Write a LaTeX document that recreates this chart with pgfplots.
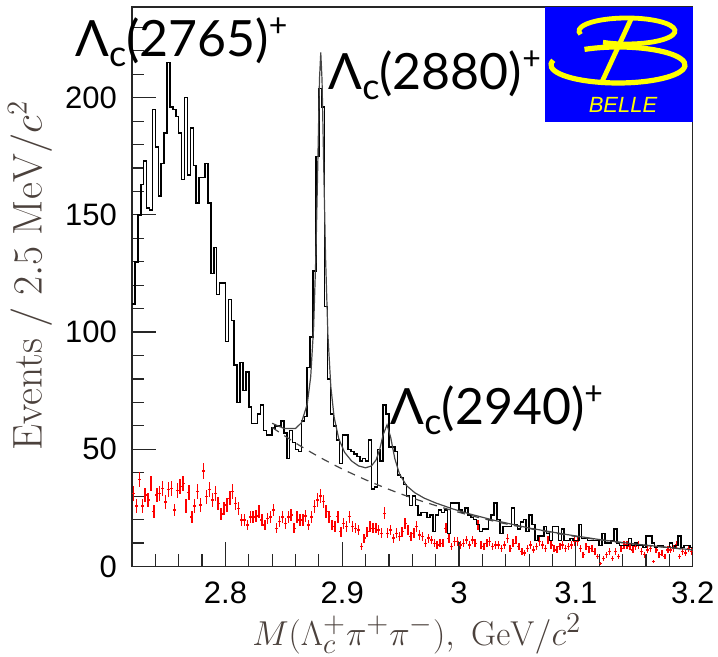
\documentclass[border=0pt]{standalone}
\usepackage[no-math]{fontspec}
\setmainfont{Liberation Sans}
\newfontfamily\annot{Lato}
\usepackage{pgfplots}
\pgfplotsset{compat=1.18}
\usepackage{pgfplotstable}

\definecolor{labelgray}{RGB}{75,65,60}
\definecolor{fitgray}{RGB}{70,70,70}
\definecolor{belleblue}{RGB}{0,0,255}
\definecolor{belleyellow}{RGB}{255,255,0}

% resonance name: Lambda_c(mass)^+
\newcommand{\lamc}[1]{Λ\raisebox{-0.2em}{\fontsize{18}{18}\selectfont c}(#1)\raisebox{0.4em}{\fontsize{16}{16}\selectfont +}}

% Lambda_c pi pi invariant mass: bin lower edge, signal-region counts, scaled sideband
\pgfplotstableread[row sep=\\]{
edge count sb \\
2.7200 112 31.2 \\ 2.7225 130 25.8 \\ 2.7250 150 37.1 \\ 2.7275 163 25.8 \\
2.7300 173 30.5 \\ 2.7325 153 28.4 \\ 2.7350 152 35.5 \\ 2.7375 195 23.4 \\
2.7400 179 30.5 \\ 2.7425 158 31.2 \\ 2.7450 172 33.3 \\ 2.7475 185 27.6 \\
2.7500 215 32.9 \\ 2.7525 196 33.3 \\ 2.7550 195 24.1 \\ 2.7575 192 32.3 \\
2.7600 185 34.0 \\ 2.7625 165 35.4 \\ 2.7650 200 25.8 \\ 2.7675 167 31.5 \\
2.7700 187 21.2 \\ 2.7725 171 25.8 \\ 2.7750 155 31.9 \\ 2.7775 166 26.2 \\
2.7800 166 40.8 \\ 2.7825 172 29.8 \\ 2.7850 155 32.9 \\ 2.7875 125 28.4 \\
2.7900 136 31.2 \\ 2.7925 116 26.9 \\ 2.7950 121 22.4 \\ 2.7975 121 24.8 \\
2.8000 96 26.2 \\ 2.8025 114 29.1 \\ 2.8050 105 31.9 \\ 2.8075 86 26.9 \\
2.8100 70 24.8 \\ 2.8125 87 19.8 \\ 2.8150 75 19.8 \\ 2.8175 83 17.7 \\
2.8200 68 21.2 \\ 2.8225 61 21.2 \\ 2.8250 61 21.5 \\ 2.8275 65 23.4 \\
2.8300 69 19.8 \\ 2.8325 58 17.7 \\ 2.8350 56 20.5 \\ 2.8375 56 21.2 \\
2.8400 59 24.1 \\ 2.8425 60 16.3 \\ 2.8450 60 19.1 \\ 2.8475 62 21.2 \\
2.8500 57 18.4 \\ 2.8525 46 21.2 \\ 2.8550 58 22.0 \\ 2.8575 53 16.3 \\
2.8600 50 21.2 \\ 2.8625 49 19.8 \\ 2.8650 62 19.8 \\ 2.8675 64 21.5 \\
2.8700 85 17.7 \\ 2.8725 98 21.2 \\ 2.8750 126 25.5 \\ 2.8775 175 28.4 \\
2.8800 204 30.0 \\ 2.8825 196 27.7 \\ 2.8850 111 23.4 \\ 2.8875 80 21.3 \\
2.8900 65 17.7 \\ 2.8925 60 17.0 \\ 2.8950 54 21.3 \\ 2.8975 44 14.9 \\
2.9000 56 18.4 \\ 2.9025 56 17.0 \\ 2.9050 50 21.3 \\ 2.9075 49 17.0 \\
2.9100 48 16.3 \\ 2.9125 47 15.6 \\ 2.9150 45 8.5 \\ 2.9175 46 12.1 \\
2.9200 45 14.9 \\ 2.9225 54 17.0 \\ 2.9250 33 16.3 \\ 2.9275 34 16.3 \\
2.9300 50 15.6 \\ 2.9325 45 14.2 \\ 2.9350 69 22.7 \\ 2.9375 65 14.2 \\
2.9400 51 15.6 \\ 2.9425 51 12.1 \\ 2.9450 49 14.2 \\ 2.9475 39 12.8 \\
2.9500 38 14.9 \\ 2.9525 35 18.4 \\ 2.9550 30 15.6 \\ 2.9575 26 12.8 \\
2.9600 30 14.2 \\ 2.9625 26 17.0 \\ 2.9650 22 13.5 \\ 2.9675 23 12.8 \\
2.9700 23 9.9 \\ 2.9725 21 12.1 \\ 2.9750 22 11.3 \\ 2.9775 15 9.9 \\
2.9800 22 9.2 \\ 2.9825 24 9.9 \\ 2.9850 23 9.9 \\ 2.9875 24 16.3 \\
2.9900 14 12.0 \\ 2.9925 27 8.5 \\ 2.9950 27 10.6 \\ 2.9975 27 10.6 \\
3.0000 24 9.2 \\ 3.0025 23 9.9 \\ 3.0050 25 11.3 \\ 3.0075 22 9.2 \\
3.0100 21 11.3 \\ 3.0125 20 9.9 \\ 3.0150 18 17.7 \\ 3.0175 15 9.2 \\
3.0200 16 8.5 \\ 3.0225 16 9.9 \\ 3.0250 20 10.6 \\ 3.0275 22 8.5 \\
3.0300 27 9.2 \\ 3.0325 20 9.2 \\ 3.0350 14 7.8 \\ 3.0375 17 9.2 \\
3.0400 17 12.0 \\ 3.0425 17 7.8 \\ 3.0450 25 9.9 \\ 3.0475 18 11.3 \\
3.0500 16 8.5 \\ 3.0525 19 6.4 \\ 3.0550 20 5.7 \\ 3.0575 15 7.8 \\
3.0600 22 9.2 \\ 3.0625 18 7.1 \\ 3.0650 11 8.5 \\ 3.0675 13 10.6 \\
3.0700 13 9.2 \\ 3.0725 17 7.8 \\ 3.0750 14 11.3 \\ 3.0775 11 9.2 \\
3.0800 17 7.8 \\ 3.0825 17 7.1 \\ 3.0850 11 8.5 \\ 3.0875 16 9.2 \\
3.0900 11 7.8 \\ 3.0925 11 8.5 \\ 3.0950 12 9.2 \\ 3.0975 11 10.6 \\
3.1000 11 10.6 \\ 3.1025 18 7.8 \\ 3.1050 12 5.0 \\ 3.1075 12 8.5 \\
3.1100 11 7.1 \\ 3.1125 11 7.8 \\ 3.1150 11 6.4 \\ 3.1175 11 4.2 \\
3.1200 9 1.4 \\ 3.1225 14 3.5 \\ 3.1250 10 5.0 \\ 3.1275 10 6.4 \\
3.1300 11 3.5 \\ 3.1325 16 6.4 \\ 3.1350 10 4.2 \\ 3.1375 9 7.8 \\
3.1400 9 9.2 \\ 3.1425 9 9.2 \\ 3.1450 12 8.5 \\ 3.1475 9 7.1 \\
3.1500 10 8.5 \\ 3.1525 9 9.2 \\ 3.1550 9 6.4 \\ 3.1575 8 5.0 \\
3.1600 13 7.1 \\ 3.1625 13 7.8 \\ 3.1650 10 2.1 \\ 3.1675 8 7.1 \\
3.1700 9 5.0 \\ 3.1725 9 5.7 \\ 3.1750 8 4.2 \\ 3.1775 8 7.1 \\
3.1800 10 7.1 \\ 3.1825 8 7.8 \\ 3.1850 9 9.2 \\ 3.1875 13 4.2 \\
3.1900 8 6.4 \\ 3.1925 9 5.7 \\ 3.1950 9 7.8 \\ 3.1975 8 6.4 \\
3.2000 8 nan \\
}\massdata

\begin{document}
\begin{tikzpicture}
\begin{axis}[
  name=ax,
  scale only axis,
  width=280.35pt, height=279.75pt,
  xmin=2.72, xmax=3.2, ymin=0, ymax=238.7,
  clip mode=individual,
  axis line style={line width=0.6pt, black!85},
  every tick/.style={line width=0.6pt, black!85},
  major tick length=12pt, minor tick length=6pt,
  xtick={2.8,2.9,3.0,3.1,3.2},
  xticklabels={2.8,2.9,3,3.1,3.2},
  minor xtick={2.72,2.74,2.76,2.78,2.82,2.84,2.86,2.88,2.92,2.94,2.96,2.98,3.02,3.04,3.06,3.08,3.12,3.14,3.16,3.18},
  ytick={0,50,100,150,200},
  minor ytick={10,20,30,40,60,70,80,90,110,120,130,140,160,170,180,190,210,220,230},
  xtick pos=bottom, ytick pos=left,
  tick align=inside,
  /pgf/number format/assume math mode=true,
  tick label style={font=\fontsize{15.5}{16}\selectfont, black},
  every x tick label/.append style={yshift=-4pt},
  every y tick label/.append style={xshift=-4pt},
  xlabel={$M(\Lambda_c^+\pi^+\pi^-),\ \mathrm{GeV}/c^2$},
  ylabel={$\mathrm{Events\ /\ 2.5\ MeV}/c^2$},
  xlabel style={font=\fontsize{19}{19}\selectfont, text=labelgray,
    at={(axis description cs:0.508,-0.121)}, anchor=center},
  ylabel style={font=\fontsize{20.5}{20.5}\selectfont, text=labelgray,
    at={(axis description cs:-0.182,0.52)}, anchor=center},
]
% sideband distribution
\addplot[red, line width=0.7pt, mark=none, draw=none,
  error bars/.cd, x dir=both, x fixed=0.00125, y dir=both,
  y explicit, error mark=none,
  error bar style={red, line width=0.7pt}]
  table[x expr=\thisrow{edge}+0.00125, y=sb,
        y error expr=0.55*sqrt(\thisrow{sb})] {\massdata};
% signal-region histogram
\addplot[const plot mark left, black, line width=0.75pt, mark=none]
  table[x=edge, y=count] {\massdata};
% fitted background
\addplot[fitgray, line width=0.6pt, dash pattern=on 4pt off 3.3pt, smooth] coordinates {
(2.840,59.3)(2.860,52.7)(2.880,46.8)(2.900,41.6)(2.920,37.0)(2.940,32.9)
(2.960,29.2)(2.980,26.0)(3.000,23.1)(3.020,20.5)(3.040,18.2)(3.060,16.2)
(3.080,14.4)(3.100,12.8)(3.120,11.4)(3.140,10.1)(3.160,9.0)(3.180,8.0)(3.200,7.1)};
% full fit
\addplot[fitgray, line width=0.6pt] coordinates {
(2.840,61.1)(2.850,58.9)(2.860,58.9)(2.865,61.3)(2.870,69.2)(2.873,81.0)
(2.8755,102.1)(2.8775,134.0)(2.879,170.4)(2.8805,207.9)(2.8816,219.3)
(2.8827,207.4)(2.8842,169.1)(2.8857,131.9)(2.8877,98.9)(2.8902,76.8)
(2.893,63.8)(2.897,54.5)(2.902,48.7)(2.908,45.0)(2.914,42.9)(2.920,42.1)
(2.925,42.9)(2.929,45.5)(2.932,49.8)(2.935,56.2)(2.9383,60.4)(2.9415,55.0)
(2.945,46.0)(2.949,39.5)(2.955,34.5)(2.962,31.5)(2.970,29.2)(2.980,27.1)
(2.995,24.5)(3.010,22.3)(3.030,19.7)(3.060,16.4)(3.090,13.8)(3.120,11.5)
(3.150,9.6)(3.180,8.1)(3.200,7.1)};

% resonance labels
\node[anchor=base west, inner sep=0pt, font=\annot\fontsize{25}{26}\selectfont]
  at (axis cs:2.6711,217.4) {\lamc{2765}};
\node[anchor=base west, inner sep=0pt, font=\annot\fontsize{25}{26}\selectfont]
  at (axis cs:2.888,203.3) {\lamc{2880}};
\node[anchor=base west, inner sep=0pt, font=\annot\fontsize{25}{26}\selectfont]
  at (axis cs:2.9411,60.4) {\lamc{2940}};
\end{axis}

% Belle logo
\begin{scope}[shift={(ax.north east)}, x=0.5pt, y=0.5pt]
  \fill[belleblue] (-147.7,0) rectangle (0,-115);
  \draw[belleyellow, line width=2.4pt]
    (-65.7,-24) ++(240:48 and 13) arc[start angle=240, end angle=555, x radius=48, y radius=13];
  \draw[belleyellow, line width=2.6pt]
    (-74.7,-58) ++(165:67 and 18) arc[start angle=165, end angle=480, x radius=67, y radius=18];
  \draw[belleyellow, line width=2.4pt] (-60.7,-10) -- (-91.7,-77);
  \node[text=belleyellow, font=\itshape\fontsize{11}{11}\selectfont, inner sep=0pt]
    at (-69.7,-97.5) {BELLE};
\end{scope}

\pgfresetboundingbox
\path[use as bounding box] ([shift={(-66pt,-45.25pt)}]ax.south west)
  rectangle ([shift={(12.65pt,3.5pt)}]ax.north east);
\end{tikzpicture}
\end{document}
